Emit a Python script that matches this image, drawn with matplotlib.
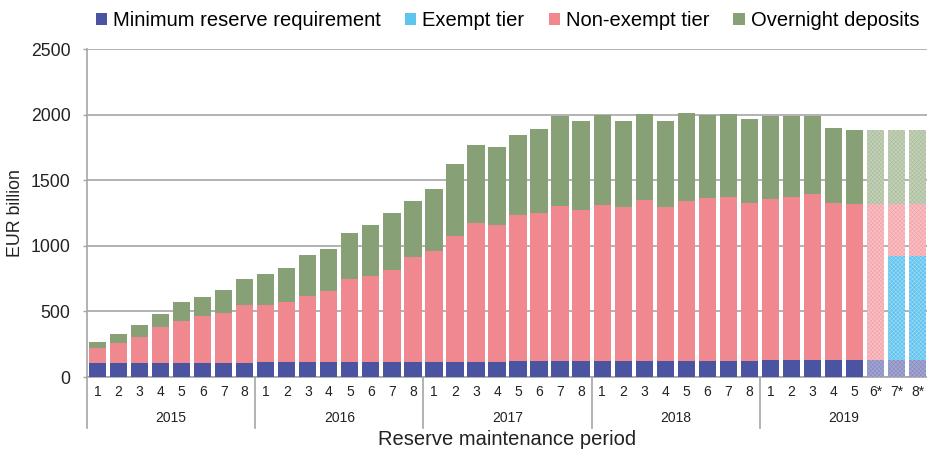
import numpy as np
import matplotlib
matplotlib.use('Agg')
import matplotlib.pyplot as plt
import matplotlib.transforms as mtransforms
from matplotlib.patches import Patch

plt.rcParams['font.family'] = ['Liberation Sans', 'DejaVu Sans']
plt.rcParams['hatch.linewidth'] = 0.4

# data (EUR billion), 5 years x 8 maintenance periods
years = ['2015', '2016', '2017', '2018', '2019']
periods = ['1', '2', '3', '4', '5', '6', '7', '8'] * 4 + ['1', '2', '3', '4', '5', '6*', '7*', '8*']

min_reserve = [105, 105, 105, 105, 110, 110, 110, 110,
               112, 112, 112, 112, 114, 114, 114, 114,
               116, 116, 118, 118, 120, 120, 122, 122,
               122, 122, 124, 124, 124, 124, 125, 125,
               127, 127, 128, 128, 129, 132, 132, 132]
exempt = [0] * 38 + [789, 789]
non_exempt = [119, 154, 197, 276, 317, 352, 380, 441,
              439, 457, 508, 543, 630, 658, 703, 802,
              841, 960, 1055, 1044, 1113, 1129, 1183, 1150,
              1190, 1170, 1224, 1175, 1216, 1239, 1248, 1202,
              1229, 1246, 1268, 1202, 1193, 1190, 401, 401]
overnight = [40, 69, 97, 99, 145, 150, 175, 196,
             231, 262, 307, 320, 356, 389, 434, 429,
             477, 548, 593, 592, 612, 644, 687, 682,
             683, 662, 660, 650, 673, 632, 632, 637,
             636, 619, 596, 568, 561, 561, 561, 561]
projected = [False] * 37 + [True] * 3

names = ['Minimum reserve requirement', 'Exempt tier', 'Non-exempt tier', 'Overnight deposits']
colors = ['#4a54a0', '#5ec6ee', '#f0898f', '#87a076']
light = ['#a3a6d0', '#62c4ee', '#f8c0c4', '#c3d1b8']
hatchc = ['#8589c0', '#9fdcf6', '#f3a0a6', '#a9bd9b']

fig = plt.figure(figsize=(9.28, 4.5), dpi=100)
ax = fig.add_axes([0.0938, 0.1622, 0.9062, 0.7289])

x = np.arange(len(periods))
bottom = np.zeros(len(periods))
series = [min_reserve, exempt, non_exempt, overnight]
for vals, c, lc, hc in zip(series, colors, light, hatchc):
    vals = np.array(vals, dtype=float)
    for i in range(len(x)):
        if vals[i] == 0:
            continue
        if projected[i]:
            ax.bar(x[i], vals[i], 0.82, bottom=bottom[i], color=lc, edgecolor=hc,
                   linewidth=0, hatch='xxxxxxxx', zorder=3)
        else:
            ax.bar(x[i], vals[i], 0.82, bottom=bottom[i], color=c, linewidth=0, zorder=3)
    bottom += vals

ax.set_xlim(-0.5, len(periods) - 0.5)
ax.set_ylim(0, 2500)
ax.set_yticks(np.arange(0, 2501, 500))
ax.yaxis.grid(True, color='#a6a6a6', linewidth=1.2, zorder=0)
ax.set_axisbelow(True)
ax.tick_params(axis='y', labelsize=12.7, colors='#a6a6a6', labelcolor='#222222',
               length=3, width=1, pad=9)
ax.set_xticks([])
for s in ['top', 'right']:
    ax.spines[s].set_visible(False)
ax.spines['left'].set_color('#a6a6a6')
ax.spines['bottom'].set_color('#a6a6a6')
ax.spines['left'].set_linewidth(1.2)
ax.spines['bottom'].set_linewidth(1.2)

ax.set_ylabel('EUR billion', fontsize=12.8, color='#222222', va='center')
ax.yaxis.set_label_coords(-0.0845, 0.5)

# two-level x axis
trans = mtransforms.blended_transform_factory(ax.transData, ax.transAxes)
for i, p in enumerate(periods):
    ax.text(i, -0.046, p, transform=trans, ha='center', va='center', fontsize=10, color='#222222')
for k, yr in enumerate(years):
    ax.text(k * 8 + 3.5, -0.125, yr, transform=trans, ha='center', va='center',
            fontsize=10, color='#222222')
for k in range(len(years) + 1):
    ax.plot([k * 8 - 0.5, k * 8 - 0.5], [0, -0.155], transform=trans, color='#a6a6a6',
            linewidth=1.2, clip_on=False)
ax.text(0.5, -0.19, 'Reserve maintenance period', transform=ax.transAxes, ha='center',
        va='center', fontsize=14.5, color='#222222')

handles = [Patch(facecolor=c, edgecolor='none') for c in colors]
fig.legend(handles, names, loc='center', bbox_to_anchor=(0.547, 0.955), ncol=4, frameon=False,
           fontsize=14.5, handlelength=0.55, handleheight=0.55, handletextpad=0.3,
           columnspacing=1.2, borderaxespad=0)

fig.savefig('out.png', dpi=100)
